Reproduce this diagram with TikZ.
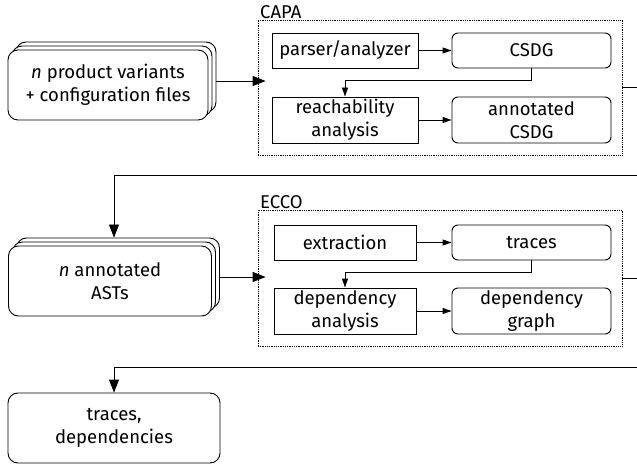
\documentclass[tikz,border=0pt]{standalone}
\usepackage{fontspec}
\setmainfont{Fira Sans}
\usetikzlibrary{arrows.meta,shadows}
\begin{document}
\begin{tikzpicture}[x=1pt,y=-1pt,
  every node/.style={font=\fontsize{18.5}{23}\selectfont, inner sep=0pt, align=center},
  proc/.style={draw, rectangle, line width=0.9pt},
  data/.style={draw, rounded corners=6pt, line width=0.9pt},
  stackbox/.style={draw, fill=white, rounded corners=10pt, line width=0.9pt,
     double copy shadow={shadow xshift=4pt, shadow yshift=4pt}},
  grp/.style={draw, densely dotted, line width=0.8pt},
  arr/.style={-{Triangle[length=9pt,width=6pt]}, line width=0.9pt},
  bigarr/.style={-{Triangle[length=13pt,width=10pt]}, line width=0.9pt},
  lbl/.style={anchor=south west}
]
\useasboundingbox (0,0) rectangle (637,465);

% input stack
\node[stackbox, minimum width=200pt, minimum height=70pt] (v) at (108,85)
  {\textit{n} product variants\\+ configuration files};

% CAPA group
\node[grp, minimum width=364pt, minimum height=135pt] (capa) at (440,87.5) {};
\node[lbl] (capal) at (260,19) {CAPA};
\node[proc, minimum width=146pt, minimum height=35pt] (parser) at (345,50.5) {parser/analyzer};
\node[data, minimum width=159pt, minimum height=35pt] (csdg) at (531.5,50.5) {CSDG};
\node[proc, minimum width=146pt, minimum height=46pt] (reach) at (345,120) {reachability\\analysis};
\node[data, minimum width=159pt, minimum height=46pt] (annot) at (531.5,120) {annotated\\CSDG};

% ASTs stack
\node[stackbox, minimum width=203pt, minimum height=70pt] (a) at (110,281)
  {\textit{n} annotated\\ASTs};

% ECCO group
\node[grp, minimum width=364pt, minimum height=136pt] (ecco) at (440,278) {};
\node[lbl] (eccol) at (260,209) {ECCO};
\node[proc, minimum width=142pt, minimum height=35pt] (extr) at (345,242.5) {extraction};
\node[data, minimum width=159pt, minimum height=35pt] (traces) at (531.5,242.5) {traces};
\node[proc, minimum width=142pt, minimum height=46pt] (depan) at (345,311) {dependency\\analysis};
\node[data, minimum width=159pt, minimum height=46pt] (depgr) at (531.5,311) {dependency\\graph};

% output
\node[data, rounded corners=10pt, minimum width=212pt, minimum height=70pt] (out) at (114,428)
  {traces,\\dependencies};

\coordinate (r1) at (638,175);
\coordinate (r2) at (638,367);

% connectors
\draw[bigarr] ([xshift=8pt,yshift=4pt]v.east) -- ([xshift=8pt,yshift=4pt]v.east -| capa.west);
\draw[arr] (parser) -- (csdg);
\draw[arr] (csdg.south) -- ++(0,12) -| (reach.north);
\draw[arr] (reach) -- (annot);
\draw[bigarr] (capa.east) -| (r1) -| ([xshift=4pt,yshift=8pt]a.north);

\draw[bigarr] ([xshift=8pt,yshift=4pt]a.east) -- ([xshift=8pt,yshift=4pt]a.east -| ecco.west);
\draw[arr] (extr) -- (traces);
\draw[arr] (traces.south) -- ++(0,12) -| (depan.north);
\draw[arr] (depan) -- (depgr);
\draw[bigarr] (ecco.east) -| (r2) -| (out.north);
\end{tikzpicture}
\end{document}
